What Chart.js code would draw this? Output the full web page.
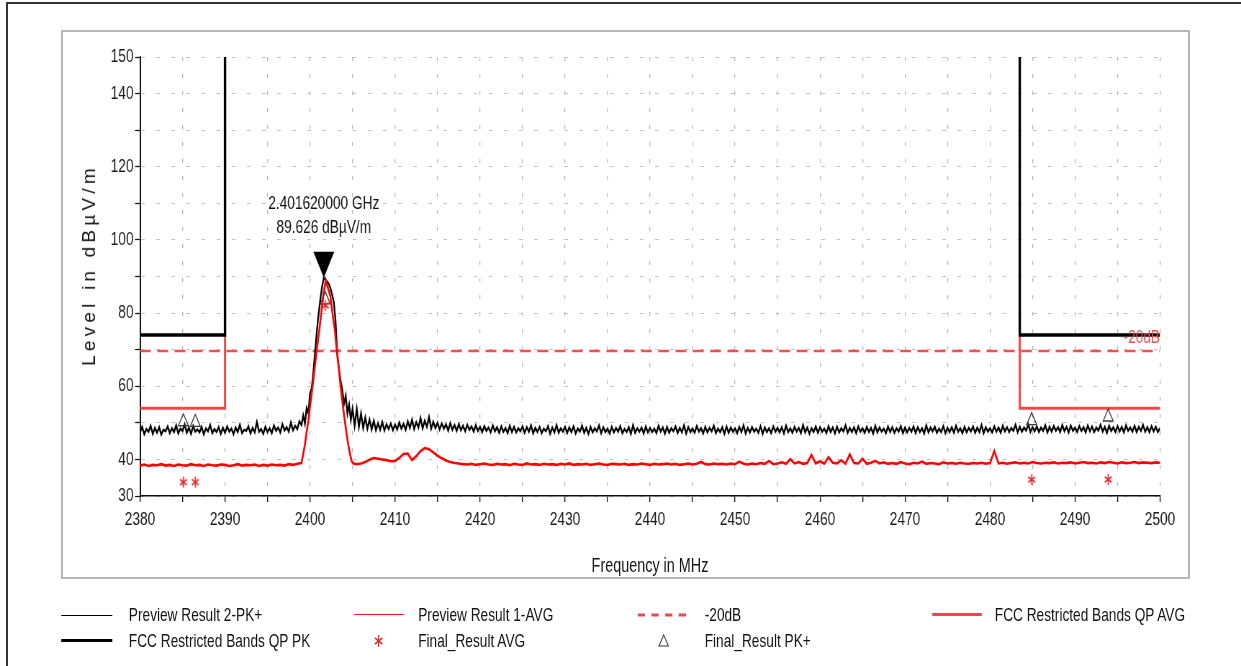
<!DOCTYPE html>
<html>
<head>
<meta charset="utf-8">
<title>Restricted band edge scan</title>
<script src="https://cdn.jsdelivr.net/npm/chart.js@4.4.1/dist/chart.umd.min.js"></script>
<style>
  html, body { margin: 0; padding: 0; background: #fff; overflow: hidden; width: 1241px; height: 666px; }
  #outer { position: absolute; left: 6px; top: 2px; width: 1400px; height: 800px;
           border-left: 2px solid #333; border-top: 2px solid #333; }
  #panel { position: absolute; left: 61px; top: 30px; width: 1129px; height: 549px;
           border: 2px solid #b6b6b6; box-sizing: border-box; }
  /* drawing surface is laid out wide and condensed horizontally */
  #stage { position: absolute; left: 0; top: 0; width: 1724px; height: 666px;
           transform: scaleX(0.719838); transform-origin: 0 0; }
  #chart { position: absolute; left: 0; top: 0; width: 1724px; height: 666px; display: block; }
  .txt { position: absolute; font: 19px 'Liberation Sans', Arial, sans-serif; color: #141414;
         line-height: 22px; white-space: nowrap; }
  .ln { position: absolute; height: 0; }
  .mk { position: absolute; }
  #ytitle { position: absolute; left: 89px; top: 265px; transform: translate(-50%, -50%) rotate(-90deg);
            font: 19px 'Liberation Sans', Arial, sans-serif; color: #141414; letter-spacing: 4.2px;
            white-space: nowrap; line-height: 22px; }
</style>
</head>
<body>
<div id="outer"></div>
<div id="panel"></div>
<div id="stage">
  <canvas id="chart" width="1724" height="666"></canvas>
  <div class="txt" style="left:903px; top:554px; transform: translateX(-50%); font-size:20px;">Frequency in MHz</div>

  <!-- legend, row 1 -->
  <div class="ln" style="left:85px; top:615px; width:71px; border-top:1px solid #000;"></div>
  <div class="txt" style="left:179px; top:604px;">Preview Result 2-PK+</div>
  <div class="ln" style="left:492px; top:614px; width:69px; border-top:1.6px solid #ff1010;"></div>
  <div class="txt" style="left:581px; top:604px;">Preview Result 1-AVG</div>
  <svg class="mk" style="left:886px; top:612px;" width="74" height="6">
    <line x1="0" y1="3" x2="74" y2="3" stroke="#f04848" stroke-width="3" stroke-dasharray="10 9"/>
  </svg>
  <div class="txt" style="left:979px; top:604px;">-20dB</div>
  <div class="ln" style="left:1295px; top:613px; width:69px; border-top:3px solid #f04848;"></div>
  <div class="txt" style="left:1382px; top:604px;">FCC Restricted Bands QP AVG</div>

  <!-- legend, row 2 -->
  <div class="ln" style="left:85px; top:639px; width:71px; border-top:3.5px solid #000;"></div>
  <div class="txt" style="left:179px; top:630px;">FCC Restricted Bands QP PK</div>
  <svg class="mk" style="left:519px; top:634px;" width="14" height="14">
    <line x1="7" y1="1" x2="7" y2="13" stroke="#e02828" stroke-width="1.6"/>
    <line x1="1.8" y1="4" x2="12.2" y2="10" stroke="#e02828" stroke-width="1.6"/>
    <line x1="1.8" y1="10" x2="12.2" y2="4" stroke="#e02828" stroke-width="1.6"/>
  </svg>
  <div class="txt" style="left:581px; top:630px;">Final_Result AVG</div>
  <svg class="mk" style="left:914px; top:634px;" width="16" height="14">
    <polygon points="8,1 14.5,12 1.5,12" fill="none" stroke="#333" stroke-width="1.2"/>
  </svg>
  <div class="txt" style="left:979px; top:630px;">Final_Result PK+</div>
</div>
<div id="ytitle">Level in dBµV/m</div>

<script>
// ---- axis ranges and tick labels ----
const freqMin = 2380, freqMax = 2500;
const levelMin = 30, levelMax = 150;
const yLabelled = [30, 40, 60, 80, 100, 120, 140, 150];

// ---- FCC restricted band limits ----
const bandEdges = [2390, 2483.5];   // MHz
const qpPkLimit = 74;               // dBµV/m
const qpAvgLimit = 54;              // dBµV/m

// ---- marker ----
const markerFreq = 2401.62;         // MHz
const markerLevel = 89.626;         // dBµV/m
const offsetLine = [69.626, 69.626]; // marker level -20 dB, across the span

// ---- Preview Result 2-PK+ (peak detector sweep) ----
// 2380 .. 2398.75 MHz, 0.25 MHz steps
const pkFloorLow = [
  47.4,48.9,46.9,48.3,47.6,49.2,47.0,48.6,47.3,48.8,46.8,48.1,47.7,49.0,47.2,48.5,47.5,49.3,47.1,48.4,
  47.8,49.6,47.3,48.7,47.0,49.1,47.6,48.2,47.4,48.9,46.9,48.5,47.7,49.4,47.2,48.3,47.5,48.8,47.0,48.6,
  47.3,49.0,47.6,48.4,46.9,48.7,47.5,49.5,47.2,48.1,47.8,49.0,47.1,48.6,47.4,50.2,47.6,48.3,47.0,48.9,
  47.5,48.5,47.2,49.3,47.8,48.7,47.4,49.6,47.9,48.8,47.6,50.1,48.0,49.2,48.3,50.4
];
// carrier region
const pkPeakFreq = [
  2399.0,2399.2,2399.4,2399.6,2399.8,2400.0,2400.2,2400.4,2400.6,2400.8,2401.0,2401.2,2401.4,2401.62,
  2401.8,2402.0,2402.2,2402.4,2402.6,2402.8,2403.0,2403.2,2403.4,2403.6,2403.8,2404.0,2404.2,2404.4,
  2404.6,2404.8,2405.0
];
const pkPeakLevel = [
  49.4,52.0,49.8,54.0,52.6,58.0,59.5,64.0,69.5,75.0,79.5,83.5,87.0,89.626,
  89.2,88.6,88.0,86.8,85.0,83.0,78.0,69.0,64.8,61.5,59.0,55.2,57.4,52.6,
  55.0,50.8,53.9
];
// 2405.25 .. 2500 MHz, 0.25 MHz steps
const pkFloorHigh = [
  49.2,53.8,48.9,52.6,48.6,51.5,48.4,50.9,48.2,50.6,48.0,49.9,48.1,50.2,47.9,49.6,48.3,49.8,48.0,49.5,
  48.2,50.1,48.4,49.7,48.1,50.4,48.6,50.9,48.3,50.2,48.7,51.3,48.5,50.6,48.9,51.6,48.4,50.3,48.6,50.0,
  48.2,49.8,48.4,49.6,47.9,49.9,48.1,49.4,47.8,49.7,48.0,49.2,47.7,49.5,48.1,49.0,47.6,49.3,47.8,48.9,
  47.5,49.1,47.8,48.7,47.4,49.3,47.7,48.8,47.3,49.0,47.6,48.6,47.2,49.2,47.5,48.9,47.4,48.5,47.7,49.0,
  47.3,48.8,47.6,49.3,47.1,48.6,47.5,48.9,47.2,48.4,47.7,49.1,47.0,48.7,47.4,49.4,47.3,48.5,47.6,48.9,
  47.2,48.7,47.5,49.0,47.1,48.4,47.6,49.2,47.3,48.6,47.0,48.9,47.4,48.5,47.7,49.3,47.2,48.8,47.5,48.4,
  47.1,48.9,47.4,48.6,47.6,49.1,47.2,48.3,47.5,48.8,47.0,49.4,47.3,48.5,47.6,48.7,47.1,49.0,47.4,48.6,
  47.5,48.4,47.2,49.2,47.6,48.7,47.0,48.9,47.3,48.5,47.7,49.0,47.2,48.6,47.4,49.3,47.1,48.8,47.5,48.4,
  47.3,49.1,47.6,48.5,47.1,48.9,47.4,48.6,47.7,49.2,47.2,48.4,47.5,48.8,47.0,49.0,47.3,48.7,47.6,48.5,
  47.2,48.9,47.5,49.3,47.1,48.6,47.4,48.8,47.6,48.4,47.3,49.1,47.0,48.7,47.5,48.5,47.2,49.0,47.6,48.6,
  47.4,48.8,47.1,49.2,47.5,48.5,47.3,48.9,47.6,48.6,47.2,49.4,47.4,48.7,47.0,48.5,47.5,49.0,47.3,48.8,
  47.6,48.4,47.2,49.1,47.5,48.7,47.1,48.9,47.4,48.5,47.7,49.3,47.3,48.6,47.5,48.8,47.2,49.0,47.6,48.5,
  47.3,48.9,47.5,48.6,47.1,49.2,47.4,48.7,47.6,48.4,47.2,49.0,47.5,48.8,47.3,48.5,47.6,49.1,47.2,48.7,
  47.4,48.6,47.6,49.0,47.2,48.8,47.5,48.5,47.1,49.3,47.4,48.7,47.7,48.9,47.3,48.4,47.5,49.1,47.2,48.6,
  47.5,48.8,47.3,49.2,47.6,48.5,47.2,48.9,47.4,48.6,47.7,49.0,47.3,48.7,47.5,49.4,47.2,48.8,47.6,48.5,
  47.4,49.0,47.6,48.7,47.3,49.2,47.7,48.8,47.5,48.6,47.8,49.5,47.4,48.9,47.6,48.7,47.9,49.6,47.5,48.8,
  47.7,49.0,47.5,48.7,47.8,49.3,47.4,48.9,47.6,49.1,47.8,48.8,47.5,49.4,47.7,48.9,47.4,49.2,47.8,48.7,
  47.5,49.1,47.8,48.8,47.4,49.3,47.7,49.0,47.5,48.7,47.9,49.5,47.6,48.9,47.3,49.2,47.8,48.8,47.5,49.1,
  47.7,48.9,47.4,49.3,47.8,48.7,47.6,49.2,47.5,48.9,47.8,49.4,47.6,48.8,47.4,49.1,47.7,48.9,47.5,48.6
];

// ---- Preview Result 1-AVG (average detector sweep) ----
// 2380 .. 2398.5 MHz, 0.5 MHz steps
const avgFloorLow = [
  38.3,38.6,38.2,38.5,38.4,38.7,38.3,38.5,38.2,38.6,38.4,38.3,38.7,38.4,38.5,38.2,38.6,38.4,38.3,38.6,
  38.5,38.2,38.4,38.7,38.3,38.5,38.4,38.6,38.2,38.5,38.3,38.6,38.4,38.5,38.3,38.7,38.5,38.8
];
const avgPeakFreq = [
  2399.0,2399.2,2399.4,2399.6,2399.8,2400.0,2400.2,2400.5,2400.8,2401.1,2401.4,2401.6,2401.85,
  2402.1,2402.4,2402.7,2402.95,2403.15,2403.4,2403.6,2403.9,2404.1,2404.3,2404.5,2404.7,2404.9,2405.1
];
const avgPeakLevel = [
  39.0,41.5,44.0,47.5,50.5,54.5,58.0,64.0,70.0,75.5,81.5,85.5,88.9,
  87.0,84.5,79.0,74.8,69.7,64.5,60.0,54.0,50.5,47.0,44.0,41.5,39.5,38.9
];
// 2405.5 .. 2500 MHz, 0.5 MHz steps
const avgFloorHigh = [
  38.7,38.9,39.3,39.9,40.4,40.2,40.0,39.8,39.5,39.6,40.4,41.5,41.6,39.8,40.9,42.3,43.1,42.8,41.9,41.0,
  40.3,39.7,39.3,39.0,38.9,38.7,
  38.6,38.8,38.5,38.7,38.9,38.6,38.5,38.8,38.6,38.7,38.4,38.8,38.6,38.5,38.9,38.6,38.7,38.5,38.8,38.6,
  38.7,38.5,38.8,38.6,38.9,38.5,38.7,38.6,38.8,38.5,38.7,38.9,38.6,38.5,38.8,38.7,38.6,38.8,38.5,38.7,
  38.6,38.9,38.7,38.5,38.8,38.6,38.7,38.9,38.6,38.8,38.5,38.7,38.9,38.6,38.8,39.3,38.7,38.6,38.9,38.7,
  38.8,38.6,38.9,38.7,39.4,38.8,38.6,38.9,38.7,39.0,38.8,39.6,38.7,38.9,39.2,38.8,40.1,38.9,39.3,38.8,
  39.0,41.2,38.9,39.5,38.8,40.6,39.1,38.9,39.8,38.8,41.4,39.0,38.9,40.2,38.8,39.1,39.6,38.9,39.2,38.8,
  39.0,38.8,39.3,38.9,38.7,39.1,38.9,39.4,38.8,39.0,38.9,38.7,39.2,38.9,39.0,38.8,39.1,38.9,38.8,39.0,
  38.9,39.1,38.8,39.0,42.3,38.9,39.1,38.8,39.0,39.2,38.9,39.1,38.9,39.3,39.0,38.9,39.1,39.0,39.2,38.9,
  39.1,39.0,39.2,38.9,39.1,39.3,39.0,39.1,38.9,39.2,39.0,39.3,39.1,38.9,39.2,39.0,39.1,39.3,39.0,39.2,
  39.1,39.0,39.2,39.1
];

// ---- final measurements ----
const finalFreqs = [2385.1, 2386.5, 2401.8, 2484.9, 2493.9];
const finalPk    = [50.3, 50.1, 83.6, 50.6, 51.6];
const finalAvg   = [33.8, 33.8, 82.1, 34.5, 34.5];

// ---- helpers ----
const sweep = (start, step, levels) => levels.map((v, i) => ({ x: start + i * step, y: v }));
const pairs = (freqs, levels) => freqs.map((f, i) => ({ x: f, y: levels[i] }));

const pkTrace = [
  ...sweep(2380, 0.25, pkFloorLow),
  ...pairs(pkPeakFreq, pkPeakLevel),
  ...sweep(2405.25, 0.25, pkFloorHigh)
];
const avgTrace = [
  ...sweep(2380, 0.5, avgFloorLow),
  ...pairs(avgPeakFreq, avgPeakLevel),
  ...sweep(2405.5, 0.5, avgFloorHigh)
];

const pkLimitLeft  = [{ x: freqMin, y: qpPkLimit }, { x: bandEdges[0], y: qpPkLimit }, { x: bandEdges[0], y: levelMax }];
const pkLimitRight = [{ x: bandEdges[1], y: levelMax }, { x: bandEdges[1], y: qpPkLimit }, { x: freqMax, y: qpPkLimit }];
const avgLimitLeft  = [{ x: freqMin, y: qpAvgLimit }, { x: bandEdges[0], y: qpAvgLimit }, { x: bandEdges[0], y: qpPkLimit }];
const avgLimitRight = [{ x: bandEdges[1], y: qpPkLimit }, { x: bandEdges[1], y: qpAvgLimit }, { x: freqMax, y: qpAvgLimit }];
const offsetData = [{ x: freqMin, y: offsetLine[0] }, { x: freqMax, y: offsetLine[1] }];

// six-armed asterisk used for the average final results
function asterisk(size, color) {
  const c = document.createElement('canvas');
  c.width = size; c.height = size;
  const g = c.getContext('2d');
  g.strokeStyle = color; g.lineWidth = 1.7;
  const m = size / 2, r = size / 2 - 1;
  for (let k = 0; k < 3; k++) {
    const a = Math.PI / 2 + k * Math.PI / 3;
    g.beginPath();
    g.moveTo(m + Math.cos(a) * r, m - Math.sin(a) * r);
    g.lineTo(m - Math.cos(a) * r, m + Math.sin(a) * r);
    g.stroke();
  }
  return c;
}
const starImg = asterisk(13, '#e02828');

const FONT = "'Liberation Sans', Arial, sans-serif";
Chart.defaults.font.family = FONT;
Chart.defaults.color = '#1a1a1a';

// marker triangle, marker readout and the -20dB tag
const annotate = {
  id: 'annotate',
  afterDatasetsDraw(chart) {
    const { ctx, scales: { x, y } } = chart;
    const px = x.getPixelForValue(markerFreq);
    const py = y.getPixelForValue(markerLevel);
    ctx.save();
    ctx.fillStyle = '#000';
    ctx.beginPath();
    ctx.moveTo(px, py);
    ctx.lineTo(px - 14.5, py - 26);
    ctx.lineTo(px + 14.5, py - 26);
    ctx.closePath();
    ctx.fill();
    ctx.font = '19px ' + FONT;
    ctx.textAlign = 'center';
    ctx.textBaseline = 'middle';
    ctx.fillStyle = '#141414';
    ctx.fillText((markerFreq / 1000).toFixed(9) + ' GHz', px, py - 74);
    ctx.fillText(markerLevel.toFixed(3) + ' dBµV/m', px, py - 50);
    ctx.fillStyle = '#ee4a4a';
    ctx.textAlign = 'right';
    ctx.fillText('-20dB', x.getPixelForValue(freqMax), y.getPixelForValue(offsetLine[1]) - 13);
    ctx.restore();
  }
};

const lineDs = (data, color, width, extra) => Object.assign({
  data, borderColor: color, borderWidth: width, pointRadius: 0, tension: 0, fill: false
}, extra || {});

new Chart(document.getElementById('chart'), {
  type: 'line',
  data: {
    datasets: [
      { label: 'Final_Result AVG', data: pairs(finalFreqs, finalAvg), showLine: false,
        pointStyle: starImg, pointRadius: 6 },
      { label: 'Final_Result PK+', data: pairs(finalFreqs, finalPk), showLine: false,
        pointStyle: 'triangle', pointRadius: 8, pointBorderWidth: 1.3,
        pointBorderColor: '#3a3a3a', pointBackgroundColor: 'rgba(0,0,0,0)' },
      lineDs(avgTrace, '#ff0000', 2.6, { label: 'Preview Result 1-AVG' }),
      lineDs(pkTrace, '#000000', 2.3, { label: 'Preview Result 2-PK+' }),
      lineDs(offsetData, '#f25050', 2.6, { label: '-20dB', borderDash: [15, 9] }),
      lineDs(pkLimitLeft, '#000000', 3.4, { label: 'FCC Restricted Bands QP PK' }),
      lineDs(pkLimitRight, '#000000', 3.4, { label: 'FCC Restricted Bands QP PK' }),
      lineDs(avgLimitLeft, '#f04848', 3, { label: 'FCC Restricted Bands QP AVG' }),
      lineDs(avgLimitRight, '#f04848', 3, { label: 'FCC Restricted Bands QP AVG' })
    ]
  },
  options: {
    responsive: false,
    maintainAspectRatio: false,
    devicePixelRatio: 1,
    animation: false,
    events: [],
    layout: { padding: { top: 57, right: 112.5, left: 0, bottom: 0 } },
    plugins: { legend: { display: false }, tooltip: { enabled: false } },
    scales: {
      x: {
        type: 'linear', min: freqMin, max: freqMax,
        afterFit: s => { s.height = 170; },
        grid: { color: '#b8b8b8', lineWidth: 1.3, tickLength: 6, tickColor: '#111',
                tickWidth: 1.4, tickBorderDash: [] },
        border: { display: true, color: '#111', width: 1.5, dash: [4, 13] },
        ticks: { stepSize: 5, autoSkip: false, maxRotation: 0, padding: 6,
                 font: { size: 19 }, color: '#1a1a1a',
                 callback: v => (v % 10 === 0 ? String(v) : '') }
      },
      y: {
        type: 'linear', min: levelMin, max: levelMax,
        afterFit: s => { s.width = 194.5; },
        grid: { color: '#c2c2c2', lineWidth: 1, tickLength: 7, tickColor: '#111',
                tickWidth: 1.2, tickBorderDash: [] },
        border: { display: true, color: '#111', width: 2, dash: [5, 16] },
        ticks: { stepSize: 10, autoSkip: false, padding: 2,
                 font: { size: 19 }, color: '#1a1a1a',
                 callback: v => (yLabelled.includes(v) ? String(v) : '') }
      }
    }
  },
  plugins: [annotate]
});
</script>
</body>
</html>
